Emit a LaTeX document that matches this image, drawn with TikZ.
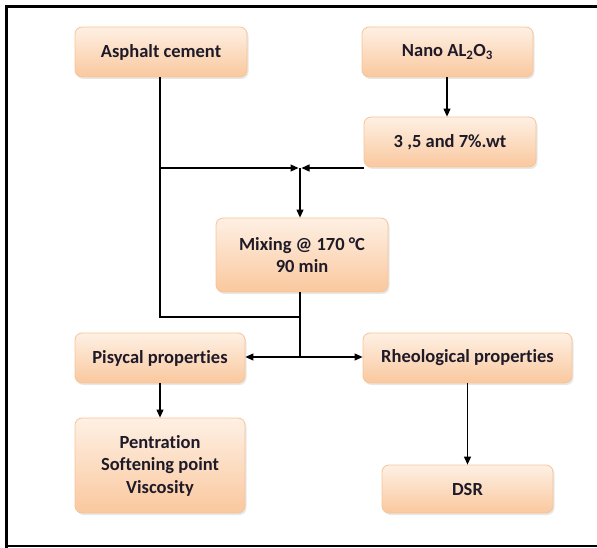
\documentclass[tikz,border=0pt]{standalone}
\usepackage{fontspec}
\setmainfont[Ligatures=NoCommon]{Carlito}
\usepackage{tikz}
\usetikzlibrary{arrows.meta,shadows,calc}
\definecolor{boxtop}{RGB}{254,240,228}
\definecolor{boxbot}{RGB}{250,200,158}
\definecolor{boxline}{RGB}{246,196,152}
\definecolor{ink}{RGB}{30,26,40}
\begin{document}
\begin{tikzpicture}[x=1pt,y=-1pt,
	box/.style={draw=boxline,line width=0.8pt,rounded corners=7pt,top color=boxtop,bottom color=boxbot,
		drop shadow={opacity=0.18,shadow xshift=1.5pt,shadow yshift=-2pt},
		align=center,text=ink,inner sep=2pt,font=\fontsize{18.5}{22.5}\selectfont\bfseries},
	conn/.style={line width=1.1pt},
	arr/.style={conn,-{Triangle[length=8pt,width=7pt]}}]
	\useasboundingbox (0,0) rectangle (597,548);
	% frame
	\draw[line width=3pt] (6.5,548) -- (6.5,6.5) -- (597,6.5);
	\draw[line width=2pt] (5,546) -- (597,546);
	% boxes
	\node[box,minimum width=172pt,minimum height=50pt] (ac) at (161,52) {Asphalt cement};
	\node[box,minimum width=171pt,minimum height=50pt] (nano) at (447.5,52) {Nano AL\textsubscript{2}O\textsubscript{3}};
	\node[box,minimum width=172pt,minimum height=50pt] (wt) at (450,142) {3 ,5 and 7\%.wt};
	\node[box,minimum width=172pt,minimum height=74pt] (mix) at (302,255) {Mixing @ 170 °C\\90 min};
	\node[box,minimum width=170pt,minimum height=50pt] (phys) at (160,358) {Pisycal properties};
	\node[box,minimum width=209pt,minimum height=50pt] (rheo) at (467.5,358) {Rheological properties};
	\node[box,minimum width=170pt,minimum height=95pt] (tests) at (160,465.5) {Pentration\\Softening point\\Viscosity};
	\node[box,minimum width=171pt,minimum height=48pt] (dsr) at (467.5,489) {DSR};
	% junctions
	\coordinate (j1) at (300,168);
	\coordinate (j2) at (300,317);
	\coordinate (j3) at (300,357);
	% connectors
	\draw[conn] (ac.south -| 160,0) -- (160,317) -- (j2);
	\draw[arr] (160,168) -- ($(j1)+(-1.5,0)$);
	\draw[arr] (wt.south west |- j1) -- ($(j1)+(1.5,0)$);
	\draw[arr] (nano.south -| 447,0) -- (wt.north -| 447,0);
	\draw[arr] (j1) -- (mix.north -| j1);
	\draw[conn] (mix.south -| j1) -- (j3);
	\draw[arr] (j3) -- (phys.east |- j3);
	\draw[arr] (j3) -- (rheo.west |- j3);
	\draw[arr] (phys.south) -- (tests.north);
	\draw[arr] (rheo.south) -- (dsr.north);
\end{tikzpicture}
\end{document}
